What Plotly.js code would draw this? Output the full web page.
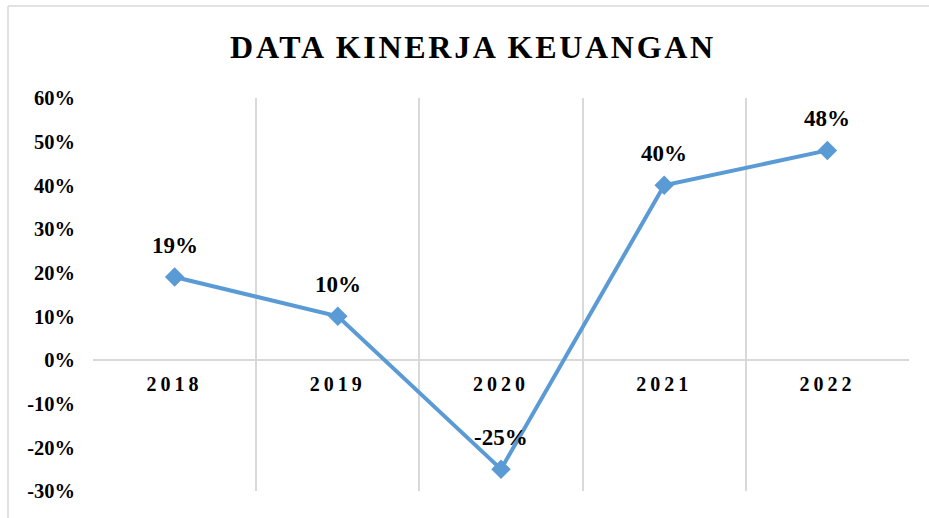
<!DOCTYPE html>
<html>
<head>
<meta charset="utf-8">
<script src="https://cdn.plot.ly/plotly-3.0.1.min.js"></script>
<style>
  html, body { margin: 0; padding: 0; background: #fff; }
  #chart { width: 929px; height: 518px; }
  .gtitle { letter-spacing: 2.7px; }
  .xtick text { letter-spacing: 4px; }
</style>
</head>
<body>
<div id="chart"></div>
<script>
const years = ['2018', '2019', '2020', '2021', '2022'];
const values = [19, 10, -25, 40, 48];
const labels = ['19%', '10%', '-25%', '40%', '48%'];
const yTicks = [-30, -20, -10, 0, 10, 20, 30, 40, 50, 60];
const yTickLabels = ['-30%', '-20%', '-10%', '0%', '10%', '20%', '30%', '40%', '50%', '60%'];
const titleText = 'DATA KINERJA KEUANGAN';

const serif = 'Liberation Serif, Times New Roman, serif';
const blue = '#5B9BD5';
const grid = '#d9d9d9';

const trace = {
  x: years,
  y: values,
  type: 'scatter',
  mode: 'lines+markers',
  line: { color: blue, width: 4 },
  marker: { symbol: 'diamond', size: 15, color: blue },
  hoverinfo: 'skip'
};

// category axis: annotation x is the category index
const annotations = years.map((yr, i) => ({
  x: i, y: values[i], xref: 'x', yref: 'y',
  text: labels[i], showarrow: false,
  yanchor: 'bottom', yshift: 17,
  font: { family: serif, size: 23, color: '#000', weight: 'bold' }
}));

const layout = {
  width: 929, height: 518,
  margin: { l: 93, r: 20, t: 98, b: 27 },
  paper_bgcolor: '#fff', plot_bgcolor: '#fff',
  showlegend: false,
  title: {
    text: titleText,
    font: { family: serif, size: 32, color: '#000', weight: 'bold' },
    x: (473 - 93) / 816, xref: 'paper', xanchor: 'center',
    y: 1 - 47 / 518, yref: 'container', yanchor: 'middle'
  },
  xaxis: {
    type: 'category',
    range: [-0.5, 4.5],
    tickson: 'boundaries',
    showgrid: true, gridcolor: grid, gridwidth: 2,
    showline: false, zeroline: false, ticks: '',
    anchor: 'free', position: 1 / 3,
    ticklabelstandoff: 10,
    tickfont: { family: serif, size: 20, color: '#000', weight: 'bold' },
    fixedrange: true
  },
  yaxis: {
    range: [-30, 60],
    tickmode: 'array', tickvals: yTicks, ticktext: yTickLabels,
    showgrid: false, showline: false, ticks: '',
    zeroline: true, zerolinecolor: grid, zerolinewidth: 2,
    ticklabelstandoff: 17,
    tickfont: { family: serif, size: 20.5, color: '#000', weight: 'bold' },
    fixedrange: true
  },
  annotations: annotations,
  shapes: [
    { type: 'line', xref: 'paper', yref: 'paper', x0: -85 / 816, x1: 836 / 816, y0: 1 + 92 / 393, y1: 1 + 92 / 393, line: { color: grid, width: 1.5 } },
    { type: 'line', xref: 'paper', yref: 'paper', x0: -85 / 816, x1: -85 / 816, y0: 1 + 92 / 393, y1: -27 / 393, line: { color: grid, width: 1.5 } }
  ]
};

Plotly.newPlot('chart', [trace], layout, { displayModeBar: false, staticPlot: true });
</script>
</body>
</html>
